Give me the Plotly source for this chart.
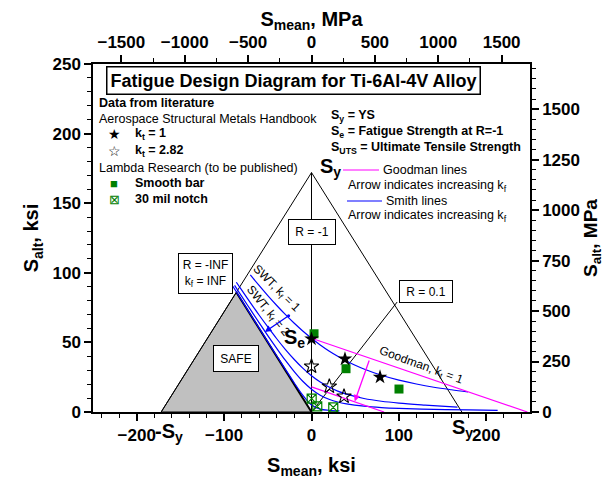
import plotly.graph_objects as go

# ---------------- data (ksi) ----------------
SY = 172          # yield strength
SE = 53           # fatigue strength at R = -1
SUTS = 247        # ultimate tensile strength
KSI_TO_MPA = 6.895

# SWT / Smith lines (mean stress, alternating stress)
swt1_mean = [-70, -60, -50, -40, -30, -20, -10, 0, 10, 20, 30, 40, 50, 60, 80, 100, 120, 140, 160, 179]
swt1_alt = [98.5, 90.9, 83.6, 76.7, 70.1, 63.9, 58.2, 53, 48.2, 43.9, 40.1, 36.7, 33.6, 30.9, 26.4, 22.9, 20.1, 17.8, 16.0, 14.5]

swt2_mean = [-86, -80, -70, -60, -50, -40, -30, -20, -10, 0, 10, 20, 30, 40, 60, 80, 100, 130, 167]
swt2_alt = [93.2, 87.7, 78.6, 69.7, 61.1, 52.8, 45.0, 37.9, 31.5, 26, 21.5, 17.9, 15.0, 12.8, 9.7, 7.7, 6.4, 5.0, 3.5]

swt3_mean = [-88, -80, -70, -60, -50, -40, -30, -20, -10, 0, 10, 20, 30, 40, 60, 80, 100, 140, 180, 213]
swt3_alt = [91.0, 83.2, 73.7, 64.2, 54.9, 45.9, 37.2, 29.2, 22.1, 16.4, 12.1, 9.2, 7.2, 5.9, 4.2, 3.2, 2.6, 1.9, 1.5, 1.2]

swt4_mean = [-90, -60, -40, -20, -10, 0, 10, 20, 32]
swt4_alt = [90.3, 60.4, 40.6, 21.2, 12.1, 5, 2.1, 1.2, 0.8]

# Goodman lines
good1_mean = [0, SUTS]
good1_alt = [SE, 0]
good2_mean = [0, 83]
good2_alt = [18, 0]

# Data points
kt1_mean = [0, 38.3, 78.4]
kt1_alt = [52.5, 38.1, 25.1]
kt282_mean = [0, 20.4, 37.2]
kt282_alt = [32.8, 18.4, 11.2]
smooth_mean = [2.9, 39.5, 100.1]
smooth_alt = [56.2, 31.1, 16.5]
notch_mean = [0.2, 6.6, 24.9]
notch_alt = [9.6, 4.0, 3.3]

# R = 0.1 load line end
r01_mean = [0, 98]
r01_alt = [0, 79]

# ---------------- styling helpers ----------------
FONT = "Arial, Liberation Sans, sans-serif"
W, H = 612, 481
L, R, T, B = 93, 82, 64, 69
BLUE = "#0000FF"
MAG = "#FF00FF"
GREEN = "#008000"


def px(x):
    return (x - L) / (W - L - R)


def py(y):
    return (H - B - y) / (H - T - B)


fig = go.Figure()

# SAFE region
fig.add_trace(go.Scatter(x=[-SY, -SY / 2, 0, -SY], y=[0, SY / 2, 0, 0], mode="lines",
                         fill="toself", fillcolor="#C0C0C0",
                         line=dict(color="black", width=1), hoverinfo="skip"))
# yield triangle
fig.add_trace(go.Scatter(x=[-SY, 0, SY], y=[0, SY, 0], mode="lines",
                         line=dict(color="black", width=1), hoverinfo="skip"))
# R = -INF line (thick)
fig.add_trace(go.Scatter(x=[-SY / 2, 0], y=[SY / 2, 0], mode="lines",
                         line=dict(color="black", width=2), hoverinfo="skip"))
# R = -1 line
fig.add_trace(go.Scatter(x=[0, 0], y=[0, SY], mode="lines",
                         line=dict(color="black", width=1), hoverinfo="skip"))
# R = 0.1 line
fig.add_trace(go.Scatter(x=r01_mean, y=r01_alt, mode="lines",
                         line=dict(color="black", width=1), hoverinfo="skip"))

# SWT lines
for xm, ya in [(swt1_mean, swt1_alt), (swt2_mean, swt2_alt), (swt3_mean, swt3_alt), (swt4_mean, swt4_alt)]:
    fig.add_trace(go.Scatter(x=xm, y=ya, mode="lines", line=dict(color=BLUE, width=1.2, shape="spline"),
                             hoverinfo="skip"))

# Goodman lines
for xm, ya in [(good1_mean, good1_alt), (good2_mean, good2_alt)]:
    fig.add_trace(go.Scatter(x=xm, y=ya, mode="lines", line=dict(color=MAG, width=1.2), hoverinfo="skip"))

# data points
fig.add_trace(go.Scatter(x=smooth_mean, y=smooth_alt, mode="markers",
                         marker=dict(symbol="square", size=9, color=GREEN)))
fig.add_trace(go.Scatter(x=notch_mean, y=notch_alt, mode="markers",
                         marker=dict(symbol="square-x-open", size=9, color=GREEN, line=dict(width=1.2))))
fig.add_trace(go.Scatter(x=kt1_mean, y=kt1_alt, mode="markers",
                         marker=dict(symbol="star", size=11, color="black")))
fig.add_trace(go.Scatter(x=kt282_mean, y=kt282_alt, mode="markers",
                         marker=dict(symbol="star-open", size=11, color="black", line=dict(width=1.1))))

# dummy trace for secondary axes
fig.add_trace(go.Scatter(x=[None], y=[None], xaxis="x2", yaxis="y2", hoverinfo="skip"))

ann = []


def txt(text, x, y, size=12.5, xanchor="left", yanchor="middle", color="black", ref="paper", **kw):
    r = "paper" if ref == "paper" else None
    d = dict(text=text, x=x, y=y, xref=r or "x", yref=r or "y", showarrow=False,
             xanchor=xanchor, yanchor=yanchor,
             font=dict(family=FONT, size=size, color=color))
    d.update(kw)
    ann.append(d)


# title box
txt("<b>Fatigue Design Diagram for Ti-6Al-4V Alloy</b>", px(293), py(81), size=18, xanchor="center",
    bordercolor="black", borderwidth=1.5, borderpad=3, bgcolor="white")

# left legend block
txt("<b>Data from literature</b>", px(97), py(103))
txt("Aerospace Structural Metals Handbook", px(97), py(119))
txt("★", px(114), py(134), size=14, xanchor="center")
txt("<b>k<sub>t</sub> = 1</b>", px(133), py(134))
txt("☆", px(114), py(151), size=14, xanchor="center")
txt("<b>k<sub>t</sub> = 2.82</b>", px(133), py(151))
txt("Lambda Research (to be published)", px(97), py(168))
txt("■", px(114), py(183), size=13, xanchor="center", color=GREEN)
txt("<b>Smooth bar</b>", px(133), py(183))
txt("⊠", px(114), py(199), size=13, xanchor="center", color=GREEN)
txt("<b>30 mil notch</b>", px(133), py(199))

# right legend block
txt("<b>S<sub>y</sub> = YS</b>", px(329), py(116))
txt("<b>S<sub>e</sub> = Fatigue Strength at R=-1</b>", px(329), py(132))
txt("<b>S<sub>UTS</sub> = Ultimate Tensile Strength</b>", px(329), py(148))
txt("Goodman lines", px(381), py(170))
txt("Arrow indicates increasing k<sub>f</sub>", px(346), py(186))
txt("Smith lines", px(384), py(201))
txt("Arrow indicates increasing k<sub>f</sub>", px(346), py(216))

shapes = [
    dict(type="line", xref="paper", yref="paper", x0=px(343), x1=px(379), y0=py(170), y1=py(170),
         line=dict(color=MAG, width=1.2)),
    dict(type="line", xref="paper", yref="paper", x0=px(347), x1=px(382), y0=py(201), y1=py(201),
         line=dict(color=BLUE, width=1.2)),
]

# in-plot labels (data coordinates)
txt("SWT, k<sub>f</sub> = 1", -40, 88.6, size=12, xanchor="center", ref="data", textangle=45)
txt("SWT, k<sub>f</sub> = 2", -50.6, 72.3, size=12, xanchor="center", ref="data", textangle=51)
txt("Goodman, k<sub>t</sub> = 1", 125.7, 33.4, size=12, xanchor="center", ref="data", textangle=20)
txt("<b>S<sub>e</sub></b>", -5, 52.5, size=20, xanchor="right", ref="data")
txt("<b>S<sub>y</sub></b>", 7.4, 176, size=20, xanchor="left", ref="data")

# boxes
for text, x, y, w, h in [("R = -1", 0, 129.5, 42, 20), ("R = 0.1", 130.6, 86.8, 48, 17),
                         ("R = -INF<br>k<sub>f</sub> = INF", -121.4, 99.7, 49, 35),
                         ("SAFE", -86.5, 38.6, 40, 21)]:
    txt(text, x, y, size=12, xanchor="center", ref="data", bordercolor="black", borderwidth=1,
        borderpad=2, bgcolor="white", width=w, height=h)

# arrows
ann.append(dict(x=49.5, y=7.6, ax=66.6, ay=38.1, xref="x", yref="y", axref="x", ayref="y", text="",
                showarrow=True, arrowhead=2, arrowsize=1, arrowwidth=1.3, arrowcolor=MAG, standoff=0))
ann.append(dict(x=-53.4, y=57.5, ax=-24.5, ay=69.9, xref="x", yref="y", axref="x", ayref="y", text="",
                showarrow=True, arrowhead=2, arrowsize=1, arrowwidth=1.3, arrowcolor=BLUE, standoff=0,
                arrowside="end+start", startarrowhead=6, startarrowsize=0.6))

# axis special labels
txt("<b>-S<sub>y</sub></b>", -163, py(432), size=20, xanchor="center", xref="x")
txt("<b>S<sub>y</sub></b>", 172.8, py(428), size=20, xanchor="center", xref="x")
txt("<b>S<sub>UTS</sub></b>", 262, py(428), size=20, xanchor="center", xref="x")

tickfont = dict(family=FONT, size=17, color="black", weight="bold")
titlefont = dict(family=FONT, size=20, color="black", weight="bold")
common = dict(showline=True, linewidth=1.5, linecolor="black", showgrid=False, zeroline=False,
              ticks="outside", ticklen=7, tickwidth=1.5, tickcolor="black", tickfont=tickfont)

fig.update_layout(
    width=W, height=H, margin=dict(l=L, r=R, t=T, b=B, autoexpand=False),
    plot_bgcolor="white", paper_bgcolor="white", showlegend=False,
    xaxis=dict(range=[-250, 250], tickvals=[-200, -100, 0, 100, 200],
               minor=dict(dtick=20, tick0=0, ticks="outside", ticklen=4, tickwidth=1, tickcolor="black"),
               title=dict(text="S<sub>mean</sub>, ksi", font=titlefont, standoff=14), **common),
    xaxis2=dict(overlaying="x", side="top", anchor="y", range=[-250 * KSI_TO_MPA, 250 * KSI_TO_MPA],
                tick0=0, dtick=500,
                minor=dict(dtick=250, tick0=0, ticks="outside", ticklen=4, tickwidth=1, tickcolor="black"),
                title=dict(text="S<sub>mean</sub>, MPa", font=titlefont, standoff=0), **common),
    yaxis=dict(range=[0, 250], dtick=50, tick0=0,
               minor=dict(dtick=10, tick0=0, ticks="outside", ticklen=4, tickwidth=1, tickcolor="black"),
               title=dict(text="S<sub>alt</sub>, ksi", font=titlefont, standoff=8), **common),
    yaxis2=dict(overlaying="y", side="right", anchor="x", range=[0, 250 * KSI_TO_MPA], dtick=250, tick0=0,
                minor=dict(dtick=50, tick0=0, ticks="outside", ticklen=4, tickwidth=1, tickcolor="black"),
                title=dict(text="S<sub>alt</sub>, MPa", font=dict(family=FONT, size=19, color="black",
                                                                  weight="bold"), standoff=2), **common),
    annotations=ann, shapes=shapes,
)

fig.write_html("out.html", config={"displayModeBar": False},
               post_script="document.body.style.margin='0px';document.body.style.padding='0px';"
                           "document.body.style.overflow='hidden';")
